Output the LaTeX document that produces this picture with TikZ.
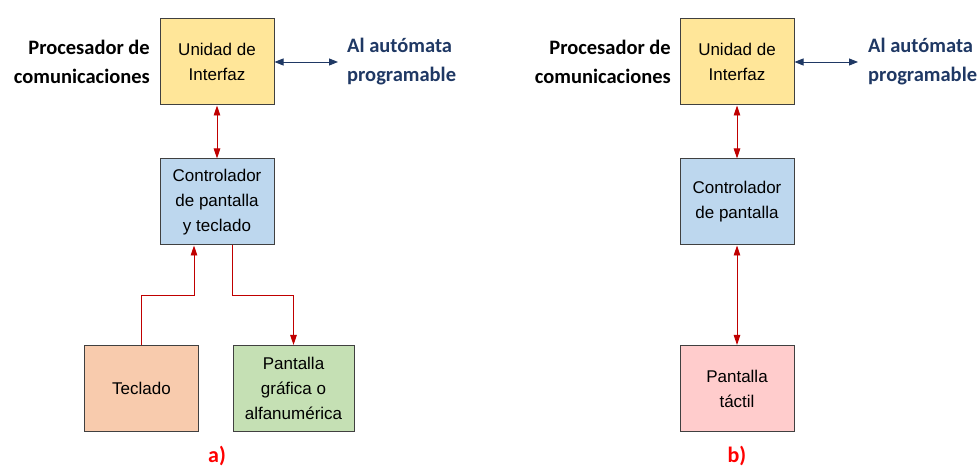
\documentclass[tikz,border=0pt]{standalone}
\usepackage{fontspec}
\setmainfont{Liberation Sans}
\newfontfamily\calibri{Carlito}
\usepackage{tikz}
\usetikzlibrary{arrows.meta}
\definecolor{amarillo}{RGB}{255,230,153}
\definecolor{celeste}{RGB}{189,215,238}
\definecolor{salmon}{RGB}{248,203,173}
\definecolor{verde}{RGB}{197,224,180}
\definecolor{rosa}{RGB}{255,204,204}
\definecolor{marino}{RGB}{31,56,100}
\definecolor{rojo}{RGB}{192,0,0}
\definecolor{borde}{RGB}{64,64,64}

\begin{document}
\begin{tikzpicture}[x=1pt,y=1pt,
    caja/.style={draw=borde, line width=1pt, minimum width=114pt, minimum height=86pt,
      align=center, font=\fontsize{17}{25}\selectfont},
    rotulo/.style={inner sep=0pt, font=\calibri\bfseries\fontsize{20.5}{29}\selectfont},
    flecharoja/.style={draw=rojo!85, line width=0.9pt, -{Triangle[length=10pt,width=6.5pt]}, rojo},
    flechaazul/.style={draw=marino, line width=0.9pt, {Triangle[length=9pt,width=7pt]}-{Triangle[length=9pt,width=7pt]}, marino}]
  \useasboundingbox (0,0) rectangle (977,468);

  % a)
  \node[caja, fill=amarillo] (unidadA) at (217,406) {Unidad de\\Interfaz};
  \node[caja, fill=celeste] (ctrlA) at (217,266) {Controlador\\de pantalla\\y teclado};
  \node[caja, fill=salmon] (teclado) at (141.5,79.5) {Teclado};
  \node[caja, fill=verde, minimum width=121pt] (pantalla) at (293.5,79.5) {Pantalla\\gr\'afica o\\alfanum\'erica};
  \node[rotulo, anchor=east, align=right] (procA) at (150,406) {Procesador de\\comunicaciones};
  \node[rotulo, anchor=west, align=left, text=marino] (plcA) at (347,406) {Al aut\'omata\\programable};
  \coordinate (finA) at (338,406);
  \node[rotulo, text=red, font=\calibri\bfseries\fontsize{22}{26}\selectfont] (etqA) at (217,12) {a)};

  \draw[flechaazul] (unidadA.east) -- (finA);
  \draw[flecharoja, {Triangle[length=10pt,width=6.5pt]}-{Triangle[length=10pt,width=6.5pt]}] (unidadA.south) -- (ctrlA.north);
  \draw[flecharoja] (teclado.north) -- ++(0,50) -| ([xshift=-23pt]ctrlA.south);
  \draw[flecharoja] ([xshift=15pt]ctrlA.south) -- ++(0,-50) -| (pantalla.north);

  % b)
  \node[caja, fill=amarillo] (unidadB) at (737,406) {Unidad de\\Interfaz};
  \node[caja, fill=celeste] (ctrlB) at (737,266) {Controlador\\de pantalla};
  \node[caja, fill=rosa] (tactil) at (737,79.5) {Pantalla\\t\'actil};
  \node[rotulo, anchor=east, align=right] (procB) at (671,406) {Procesador de\\comunicaciones};
  \node[rotulo, anchor=west, align=left, text=marino] (plcB) at (868,406) {Al aut\'omata\\programable};
  \coordinate (finB) at (858,406);
  \node[rotulo, text=red, font=\calibri\bfseries\fontsize{22}{26}\selectfont] (etqB) at (737,12) {b)};

  \draw[flechaazul] (unidadB.east) -- (finB);
  \draw[flecharoja, {Triangle[length=10pt,width=6.5pt]}-{Triangle[length=10pt,width=6.5pt]}] (unidadB.south) -- (ctrlB.north);
  \draw[flecharoja, {Triangle[length=10pt,width=6.5pt]}-{Triangle[length=10pt,width=6.5pt]}] (ctrlB.south) -- (tactil.north);
\end{tikzpicture}
\end{document}
